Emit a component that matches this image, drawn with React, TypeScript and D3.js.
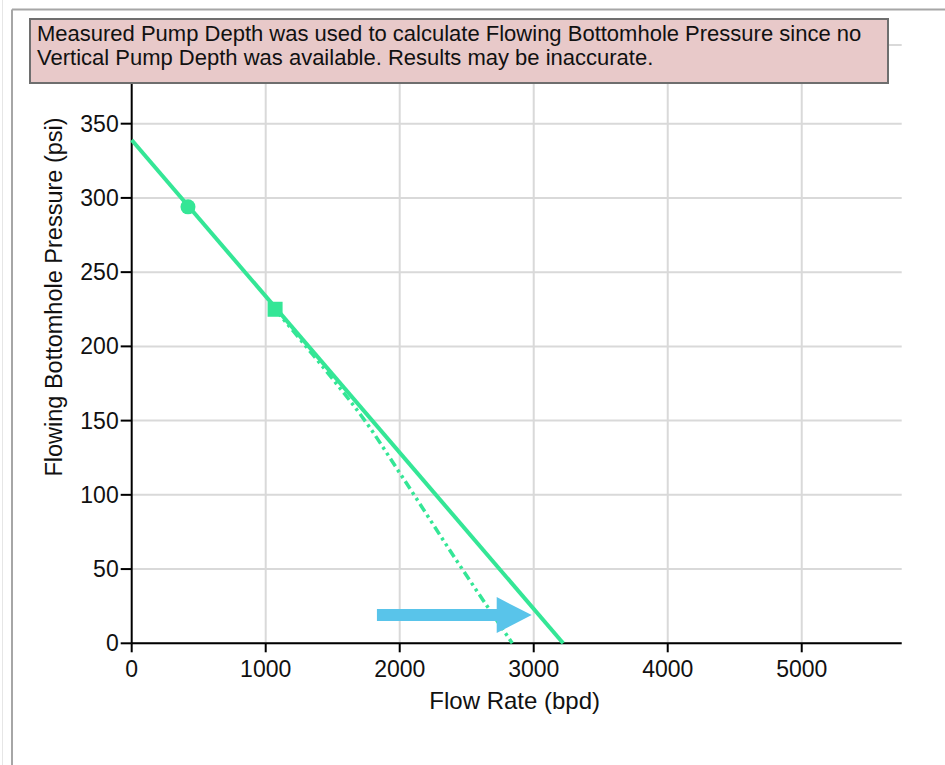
import React from "react";
import * as d3 from "d3";

// IPR lines
const straightRate = [0, 3220];
const straightPressure = [339, 0];

const curveRate = [1070, 1300, 1500, 1740, 2020, 2430, 2840];
const curvePressure = [225, 200, 178, 150, 112, 55, 0];

const testPoint = { rate: 420, pressure: 294 };
const operatingPoint = { rate: 1070, pressure: 225 };

const xTicks = [0, 1000, 2000, 3000, 4000, 5000];
const yTicks = [0, 50, 100, 150, 200, 250, 300, 350];

// arrow annotation (data units)
const arrowFrom = { rate: 1830, pressure: 19 };
const arrowTo = { rate: 2985, pressure: 19 };

const warningLines = [
  "Measured Pump Depth was used to calculate Flowing Bottomhole Pressure since no",
  "Vertical Pump Depth was available. Results may be inaccurate.",
];

const W = 945;
const H = 765;
const green = "#34e696";
const grid = "#d9d9d9";
const font = "'Liberation Sans', Arial, sans-serif";

export default function App() {
  const x = d3.scaleLinear().domain([0, 5746]).range([131.7, 901.7]);
  const y = d3.scaleLinear().domain([0, 403]).range([643.3, 45]);

  const straight = straightRate.map((q, i) => [q, straightPressure[i]] as [number, number]);
  const curve = curveRate.map((q, i) => [q, curvePressure[i]] as [number, number]);

  const line = d3
    .line<[number, number]>()
    .x((d) => x(d[0]))
    .y((d) => y(d[1]));
  const curved = d3
    .line<[number, number]>()
    .x((d) => x(d[0]))
    .y((d) => y(d[1]))
    .curve(d3.curveMonotoneX);

  const ay = y(arrowFrom.pressure);
  const ax0 = x(arrowFrom.rate);
  const ax1 = x(arrowTo.rate);
  const headLen = 35;
  const arrowPath = [
    [ax0, ay - 6],
    [ax1 - headLen, ay - 6],
    [ax1 - headLen, ay - 18],
    [ax1, ay],
    [ax1 - headLen, ay + 18],
    [ax1 - headLen, ay + 6],
    [ax0, ay + 6],
  ]
    .map((p, i) => (i === 0 ? "M" : "L") + p[0] + "," + p[1])
    .join("") + "Z";

  const x0 = x.range()[0];
  const x1 = x.range()[1];
  const y0 = y.range()[0];
  const yTop = y.range()[1];

  return (
    <svg
      width={W}
      height={H}
      style={{ position: "absolute", left: 0, top: 0, background: "#fff" }}
      fontFamily={font}
    >
      {/* outer frame */}
      <line x1={2.5} y1={0} x2={2.5} y2={H} stroke="#e6e6e6" strokeWidth={1} />
      <line x1={12} y1={9.5} x2={W} y2={9.5} stroke="#a6a6a6" strokeWidth={2} />
      <line x1={12} y1={9.5} x2={12} y2={H} stroke="#a6a6a6" strokeWidth={2} />

      {/* grid */}
      {[...yTicks, 403].map((t) => (
        <line key={"gy" + t} x1={x0} x2={x1} y1={y(t)} y2={y(t)} stroke={grid} strokeWidth={2} />
      ))}
      {xTicks.slice(1).map((t) => (
        <line key={"gx" + t} x1={x(t)} x2={x(t)} y1={yTop} y2={y0} stroke={grid} strokeWidth={2} />
      ))}

      {/* axes */}
      <line x1={x0} x2={x1} y1={y0} y2={y0} stroke="#000" strokeWidth={2} />
      <line x1={x0} x2={x0} y1={yTop} y2={y0} stroke="#000" strokeWidth={2} />
      {xTicks.map((t) => (
        <g key={"tx" + t}>
          <line x1={x(t)} x2={x(t)} y1={y0} y2={y0 + 9} stroke="#000" strokeWidth={2} />
          <text x={x(t)} y={677} textAnchor="middle" fontSize={23} fill="#111">
            {t}
          </text>
        </g>
      ))}
      {yTicks.map((t) => (
        <g key={"ty" + t}>
          <line x1={x0 - 11} x2={x0} y1={y(t)} y2={y(t)} stroke="#000" strokeWidth={2} />
          <text x={x0 - 13} y={y(t) + 8} textAnchor="end" fontSize={23} fill="#111">
            {t}
          </text>
        </g>
      ))}

      {/* axis titles */}
      <text x={(x(0) + x(5746)) / 2 - 2} y={709} textAnchor="middle" fontSize={24} fill="#111">
        Flow Rate (bpd)
      </text>
      <text
        transform={`translate(62, 297) rotate(-90)`}
        textAnchor="middle"
        fontSize={23.5}
        fill="#111"
      >
        Flowing Bottomhole Pressure (psi)
      </text>

      {/* IPR lines */}
      <path d={curved(curve) || ""} fill="none" stroke={green} strokeWidth={3.5} strokeDasharray="9,4,3,4,3,4" />
      <path d={line(straight) || ""} fill="none" stroke={green} strokeWidth={4} />
      <circle cx={x(testPoint.rate)} cy={y(testPoint.pressure)} r={7.5} fill={green} />
      <rect
        x={x(operatingPoint.rate) - 7.5}
        y={y(operatingPoint.pressure) - 7.5}
        width={15}
        height={15}
        fill={green}
      />

      {/* arrow annotation */}
      <path d={arrowPath} fill="#59c4ea" />

      {/* warning box */}
      <rect x={30} y={19} width={858} height={64} fill="#e8c9c9" stroke="#6e6e6e" strokeWidth={2} />
      {warningLines.map((s, i) => (
        <text key={i} x={37} y={41 + i * 24} fontSize={22} fill="#111">
          {s}
        </text>
      ))}
    </svg>
  );
}
